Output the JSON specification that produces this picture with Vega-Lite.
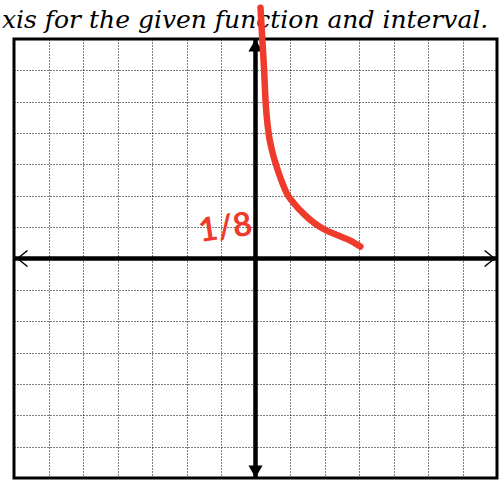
{
  "$schema": "https://vega.github.io/schema/vega-lite/v6.json",
  "width": 483,
  "height": 439,
  "autosize": {"type": "none"},
  "padding": {"left": 14, "top": 39, "right": 7, "bottom": 5},
  "background": "white",
  "config": {
    "view": {"stroke": "black", "strokeWidth": 3},
    "axis": {
      "grid": true,
      "gridColor": "#000",
      "gridDash": [1, 2],
      "gridWidth": 1,
      "gridOpacity": 1,
      "domain": false,
      "ticks": false,
      "labels": false,
      "title": null,
      "values": [-6, -5, -4, -3, -2, -1, 1, 2, 3, 4, 5, 6]
    }
  },
  "datasets": {
    "curve": [
      {"x": 0.145, "y": 8.0},
      {"x": 0.2, "y": 6.95},
      {"x": 0.25, "y": 6.0},
      {"x": 0.29, "y": 5.04},
      {"x": 0.37, "y": 4.08},
      {"x": 0.48, "y": 3.44},
      {"x": 0.6, "y": 2.97},
      {"x": 0.75, "y": 2.49},
      {"x": 0.92, "y": 2.05},
      {"x": 1.1, "y": 1.78},
      {"x": 1.39, "y": 1.43},
      {"x": 1.68, "y": 1.15},
      {"x": 1.97, "y": 0.94},
      {"x": 2.38, "y": 0.74},
      {"x": 2.75, "y": 0.57},
      {"x": 3.04, "y": 0.38}
    ],
    "axes": [
      {"x": -7, "x2": 7, "y": 0, "y2": 0},
      {"x": 0, "x2": 0, "y": -7, "y2": 7}
    ],
    "chevrons": [
      {"x": -6.9, "y": 0, "x2": -6.61, "y2": 0.255},
      {"x": -6.9, "y": 0, "x2": -6.61, "y2": -0.255},
      {"x": 6.93, "y": 0, "x2": 6.64, "y2": 0.255},
      {"x": 6.93, "y": 0, "x2": 6.64, "y2": -0.255}
    ],
    "arrowheads": [
      {"x": 0, "y": 6.8, "dir": "up"},
      {"x": 0, "y": -6.8, "dir": "down"}
    ],
    "note": [
      {"x": -0.87, "y": 0.96, "label": "1/8"}
    ],
    "heading": [
      {"x": -7.35, "y": 7.35, "label": "xis for the given function and interval."}
    ]
  },
  "layer": [
    {
      "data": {"name": "axes"},
      "mark": {"type": "rule", "color": "black", "strokeWidth": 4.5},
      "encoding": {
        "x": {"field": "x", "type": "quantitative", "scale": {"domain": [-7, 7], "nice": false, "zero": false}},
        "x2": {"field": "x2"},
        "y": {"field": "y", "type": "quantitative", "scale": {"domain": [-7, 7], "nice": false, "zero": false}},
        "y2": {"field": "y2"}
      }
    },
    {
      "data": {"name": "chevrons"},
      "mark": {"type": "rule", "color": "black", "strokeWidth": 1.5},
      "encoding": {
        "x": {"field": "x", "type": "quantitative"},
        "x2": {"field": "x2"},
        "y": {"field": "y", "type": "quantitative"},
        "y2": {"field": "y2"}
      }
    },
    {
      "data": {"name": "arrowheads"},
      "mark": {"type": "point", "filled": true, "color": "black", "size": 200, "opacity": 1},
      "encoding": {
        "x": {"field": "x", "type": "quantitative"},
        "y": {"field": "y", "type": "quantitative"},
        "shape": {"field": "dir", "type": "nominal", "scale": {"domain": ["up", "down"], "range": ["triangle-up", "triangle-down"]}, "legend": null}
      }
    },
    {
      "data": {"name": "heading"},
      "mark": {"type": "text", "color": "black", "font": "DejaVu Serif", "fontStyle": "italic", "fontSize": 25, "align": "left", "baseline": "alphabetic", "clip": false},
      "encoding": {
        "x": {"field": "x", "type": "quantitative"},
        "y": {"field": "y", "type": "quantitative"},
        "text": {"field": "label"}
      }
    },
    {
      "data": {"name": "curve"},
      "mark": {"type": "line", "color": "#EE3B2C", "strokeWidth": 6.5, "strokeCap": "round", "strokeJoin": "round", "interpolate": "monotone", "clip": false},
      "encoding": {
        "x": {"field": "x", "type": "quantitative"},
        "y": {"field": "y", "type": "quantitative"},
        "order": {"field": "x", "type": "quantitative"}
      }
    },
    {
      "data": {"name": "note"},
      "mark": {"type": "text", "color": "#EE3B2C", "font": "Lato", "fontWeight": "bold", "fontSize": 33, "angle": -8},
      "encoding": {
        "x": {"field": "x", "type": "quantitative"},
        "y": {"field": "y", "type": "quantitative"},
        "text": {"field": "label"}
      }
    }
  ]
}
